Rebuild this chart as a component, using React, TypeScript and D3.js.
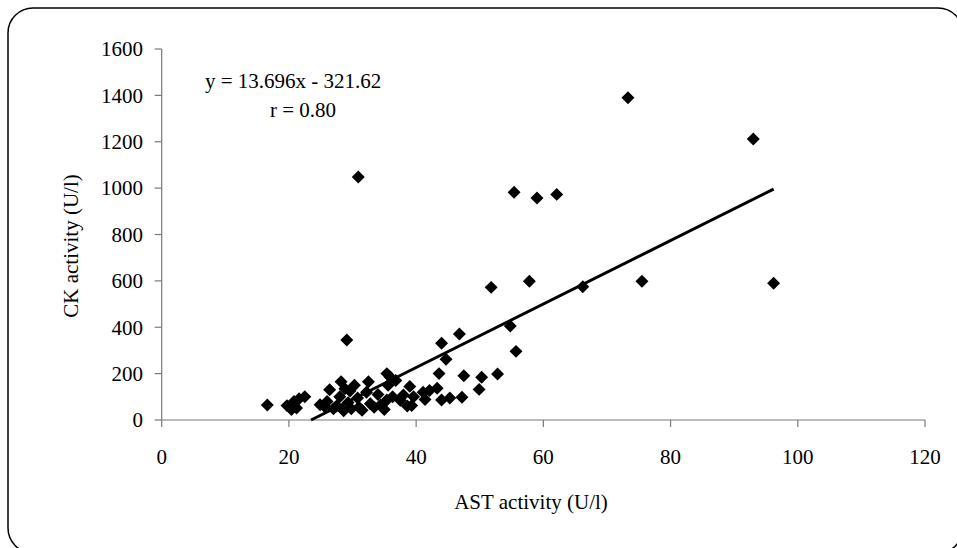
import React from "react";
import * as d3 from "d3";

const astValues: number[] = [
  16.6, 19.7, 20.4, 20.8, 21.2, 21.6, 22.5, 24.9, 25.6, 26.4, 26.0, 27.0, 27.5, 28.2, 28.0,
  28.6, 28.8, 29.1, 29.3, 29.6, 29.8, 30.3, 30.8, 30.9, 31.0, 31.5, 32.2, 32.5, 32.8, 33.4,
  34.0, 34.4, 35.0, 35.4, 35.6, 35.9, 36.3, 36.8, 37.5, 38.0, 38.6, 39.0, 39.3, 39.6, 41.1,
  41.4, 42.1, 43.3, 43.6, 44.0, 44.0, 44.7, 45.3, 46.8, 47.2, 47.5, 49.9, 50.3, 51.8, 52.8,
  54.8, 55.4, 55.7, 57.8, 59.0, 62.1, 66.2, 73.3, 75.5, 93.0, 96.2, 35.4,
];
const ckValues: number[] = [
  65, 62, 45, 80, 52, 92, 100, 66, 58, 130, 80, 48, 60, 165, 100,
  40, 135, 345, 75, 125, 48, 150, 95, 1048, 55, 42, 120, 165, 70, 55,
  110, 65, 45, 200, 150, 185, 100, 170, 85, 108, 60, 145, 62, 100, 120,
  88, 127, 137, 200, 331, 86, 262, 95, 371, 98, 191, 132, 184, 572, 198,
  405, 982, 296, 598, 957, 973, 575, 1390, 598, 1212, 590, 86,
];
const xTicks: number[] = [0, 20, 40, 60, 80, 100, 120];
const yTicks: number[] = [0, 200, 400, 600, 800, 1000, 1200, 1400, 1600];
const slope = 13.696;
const intercept = -321.62;
const equationLabel = "y = 13.696x - 321.62";
const rLabel = "r = 0.80";
const xTitle = "AST activity (U/l)";
const yTitle = "CK activity (U/l)";

export default function App() {
  const W = 957;
  const H = 548;
  const left = 161.7;
  const right = 925;
  const top = 49;
  const bottom = 420;
  const x = d3.scaleLinear().domain([0, 120]).range([left, right]);
  const y = d3.scaleLinear().domain([0, 1600]).range([bottom, top]);
  const font = "'Liberation Serif', 'Times New Roman', serif";
  const axisColor = "#7a7a7a";
  const diamond = d3.symbol().type(d3.symbolSquare).size(84)() as string;

  const xMin = d3.min(astValues) as number;
  const xMax = d3.max(astValues) as number;
  const xStart = Math.max(xMin, -intercept / slope);
  const line = d3
    .line<number>()
    .x((d) => x(d))
    .y((d) => y(slope * d + intercept));

  const points = astValues.map((v, i) => ({ x: v, y: ckValues[i] }));

  return (
    <svg
      width={W}
      height={H}
      style={{ position: "absolute", left: 0, top: 0, background: "#fff" }}
    >
      <rect
        x={8}
        y={8}
        width={955}
        height={545}
        rx={25}
        ry={25}
        fill="#fff"
        stroke="#000"
        strokeWidth={1.5}
      />
      {/* y axis */}
      <line x1={left} x2={left} y1={top} y2={bottom} stroke={axisColor} strokeWidth={1.2} />
      {yTicks.map((t) => (
        <g key={"y" + t}>
          <line x1={left - 7} x2={left} y1={y(t)} y2={y(t)} stroke={axisColor} strokeWidth={1.2} />
          <text
            x={143}
            y={y(t)}
            dy="0.35em"
            textAnchor="end"
            fontFamily={font}
            fontSize={21}
            fill="#000"
          >
            {t}
          </text>
        </g>
      ))}
      {/* x axis */}
      <line x1={left} x2={right} y1={bottom} y2={bottom} stroke={axisColor} strokeWidth={1.2} />
      {xTicks.map((t) => (
        <g key={"x" + t}>
          <line x1={x(t)} x2={x(t)} y1={bottom} y2={bottom + 7} stroke={axisColor} strokeWidth={1.2} />
          <text
            x={x(t)}
            y={464}
            textAnchor="middle"
            fontFamily={font}
            fontSize={21}
            fill="#000"
          >
            {t}
          </text>
        </g>
      ))}
      {/* points */}
      {points.map((p, i) => (
        <path
          key={i}
          d={diamond}
          transform={`translate(${x(p.x)},${y(p.y)}) rotate(45)`}
          fill="#000"
        />
      ))}
      {/* trend line */}
      <path
        d={line([xStart, xMax]) as string}
        fill="none"
        stroke="#000"
        strokeWidth={3}
      />
      {/* equation */}
      <text x={205} y={88} fontFamily={font} fontSize={21} fill="#000">
        {equationLabel}
      </text>
      <text x={270} y={117} fontFamily={font} fontSize={21} fill="#000">
        {rLabel}
      </text>
      {/* titles */}
      <text
        x={531}
        y={509}
        textAnchor="middle"
        fontFamily={font}
        fontSize={21}
        fill="#000"
      >
        {xTitle}
      </text>
      <text
        transform={`translate(78,246) rotate(-90)`}
        textAnchor="middle"
        fontFamily={font}
        fontSize={21}
        fill="#000"
      >
        {yTitle}
      </text>
    </svg>
  );
}
